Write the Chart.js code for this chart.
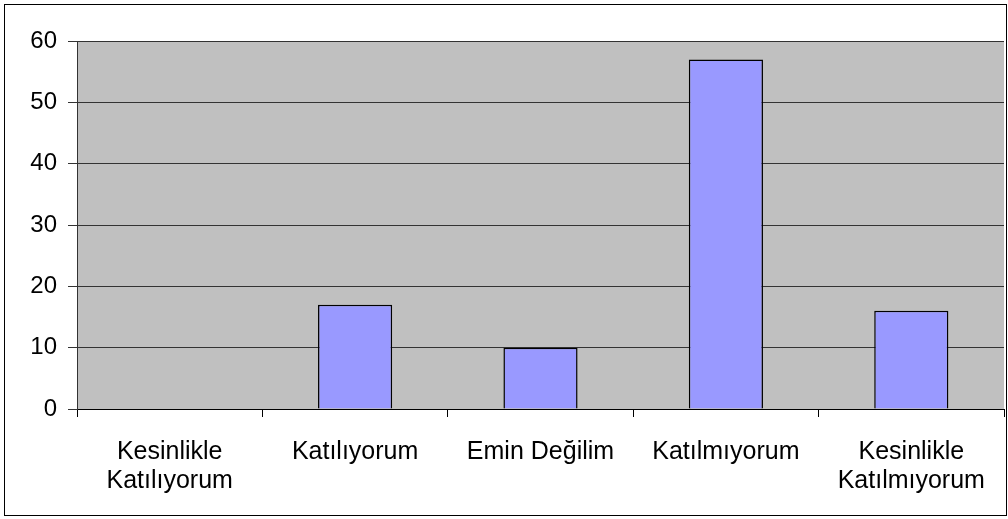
<!DOCTYPE html>
<html>
<head>
<meta charset="utf-8">
<script src="https://cdn.jsdelivr.net/npm/chart.js@4"></script>
<style>
  html, body { margin: 0; padding: 0; background: #fff; }
  #wrap { width: 1008px; height: 519px; position: relative; }
</style>
</head>
<body>
<div id="wrap"><canvas id="surveyChart"></canvas></div>
<script>
const categories = [
    ['Kesinlikle', 'Katılıyorum'],
    'Katılıyorum',
    'Emin Değilim',
    'Katılmıyorum',
    ['Kesinlikle', 'Katılmıyorum']
];
const counts = [0, 17, 10, 57, 16];
const yTicks = [0, 10, 20, 30, 40, 50, 60];

// gray plot area + outer frame
const frame = {
    id: 'frame',
    beforeDraw(chart) {
        const { ctx, chartArea: a } = chart;
        ctx.save();
        ctx.fillStyle = '#c0c0c0';
        ctx.fillRect(a.left, a.top, a.right - a.left, a.bottom - a.top);
        ctx.restore();
    },
    afterDraw(chart) {
        const ctx = chart.ctx;
        ctx.save();
        ctx.strokeStyle = '#000';
        ctx.lineWidth = 1;
        ctx.strokeRect(4.5, 4.5, 1002, 511);
        ctx.restore();
    }
};

new Chart(document.getElementById('surveyChart'), {
    type: 'bar',
    data: {
        labels: categories,
        datasets: [{
            data: counts,
            backgroundColor: '#9999ff',
            borderColor: '#000',
            borderWidth: 1.5,
            categoryPercentage: 1,
            barPercentage: 0.4
        }]
    },
    plugins: [frame],
    options: {
        responsive: true,
        maintainAspectRatio: false,
        animation: false,
        layout: { padding: { top: 41, right: 4, left: 8, bottom: 0 } },
        plugins: {
            legend: { display: false },
            tooltip: { enabled: false }
        },
        scales: {
            x: {
                offset: true,
                grid: {
                    offset: true,
                    drawOnChartArea: false,
                    color: '#000',
                    tickLength: 8
                },
                border: { color: '#000', width: 1 },
                ticks: {
                    color: '#000',
                    maxRotation: 0,
                    autoSkip: false,
                    padding: 20,
                    font: { family: 'Liberation Sans, Arial, sans-serif', size: 25, lineHeight: 1.18 }
                },
                afterFit(scale) { scale.height = 110; }
            },
            y: {
                min: 0,
                max: 60,
                afterBuildTicks(scale) { scale.ticks = yTicks.map(v => ({ value: v })); },
                grid: { color: '#333', tickLength: 9 },
                border: { color: '#333', width: 1 },
                ticks: {
                    color: '#000',
                    padding: 11,
                    font: { family: 'Liberation Sans, Arial, sans-serif', size: 24 }
                },
                afterFit(scale) { scale.width = 69; }
            }
        }
    }
});
</script>
</body>
</html>
